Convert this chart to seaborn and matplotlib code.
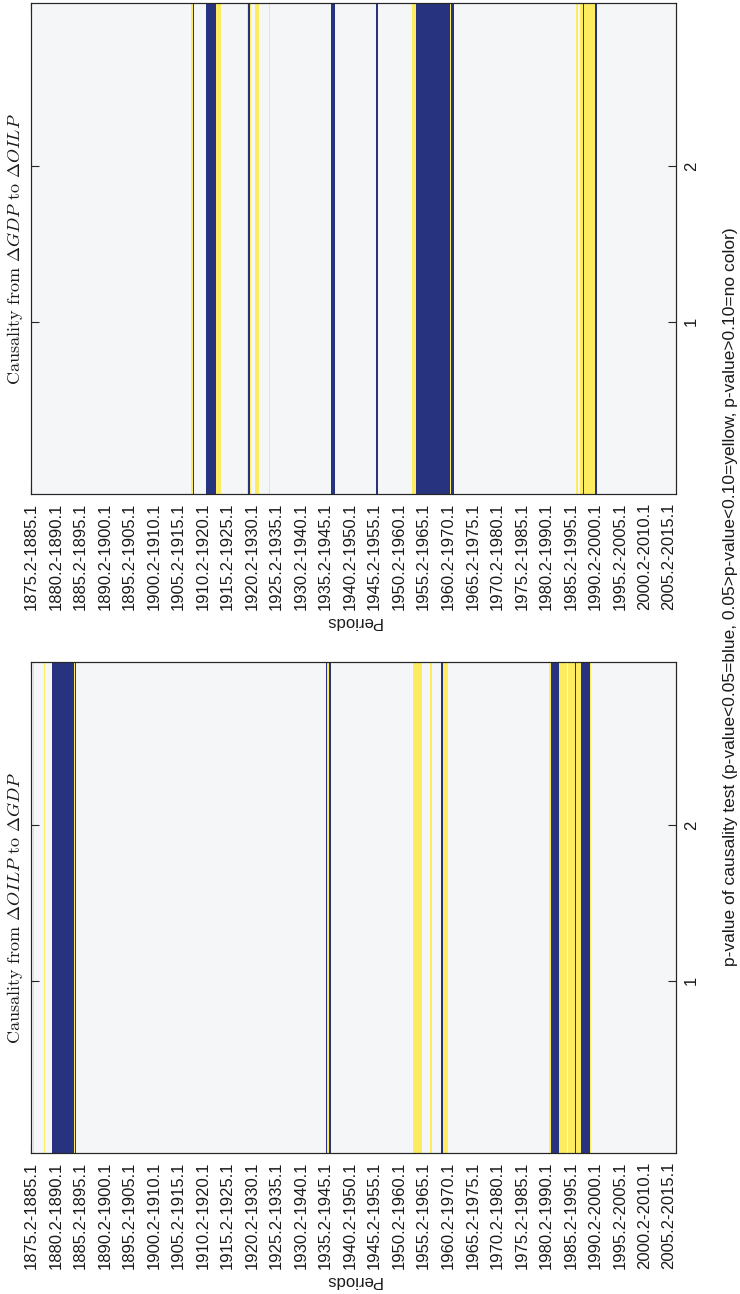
import numpy as np
import pandas as pd
import matplotlib
matplotlib.use("Agg")
import matplotlib.pyplot as plt
from matplotlib.colors import ListedColormap
import seaborn as sns

# ---------------- data ----------------
# rolling 10-year windows, quarterly steps: first window 1875.2-1885.1, last window start 2006.3
first_window = "1875.2"
last_window = "2006.3"

tick_labels = [f"{y}.2-{y + 10}.1" for y in range(1875, 2010, 5)]

# category: 1 = yellow (0.05<p<0.10), 2 = blue (p<0.05); start window, length in quarters
# Panel: causality from dGDP to dOILP
gdp_oil_start = ["1908.1", "1908.2", "1911.1", "1913.1", "1919.2", "1919.3", "1920.1",
                 "1921.1", "1923.4", "1936.3", "1945.4", "1953.1", "1953.4", "1960.4",
                 "1961.1", "1986.3", "1987.2", "1987.4", "1988.1", "1990.2"]
gdp_oil_len = [1, 1, 8, 4, 1, 2, 1, 3, 1, 3, 1, 3, 28, 1, 2, 1, 2, 1, 9, 2]
gdp_oil_cat = [1, 2, 2, 1, 1, 2, 1, 1, 1, 2, 2, 1, 2, 1, 2, 1, 1, 2, 1, 2]

# Panel: causality from dOILP to dGDP
oil_gdp_start = ["1875.4", "1878.1", "1879.3", "1884.1", "1884.2", "1935.3", "1935.4",
                 "1936.1", "1953.2", "1956.4", "1959.1", "1959.2", "1981.1", "1981.2",
                 "1983.1", "1984.4", "1986.2", "1986.3", "1987.3", "1989.2"]
oil_gdp_len = [1, 1, 18, 1, 1, 1, 1, 2, 7, 1, 1, 4, 1, 7, 6, 6, 1, 4, 7, 1]
oil_gdp_cat = [1, 1, 2, 1, 2, 2, 1, 2, 1, 1, 2, 1, 1, 2, 1, 1, 2, 1, 2, 1]

lags = [1, 2]

titles = [r"Causality from $\Delta GDP$ to $\Delta OILP$",
          r"Causality from $\Delta OILP$ to $\Delta GDP$"]
xlabel_text = ("p-value of causality test (p-value<0.05=blue, "
               "0.05>p-value<0.10=yellow, p-value>0.10=no color)")

# ---------------- helpers ----------------
def qidx(s):
    y, q = s.split(".")
    return int(y) * 4 + int(q) - 1

q_first, q_last = qidx(first_window), qidx(last_window)
n_cells = q_last - q_first + 1
windows = []
for k in range(n_cells):
    qq = q_first + k
    windows.append(f"{qq // 4}.{qq % 4 + 1}")


def build(starts, lens, cats):
    s = pd.Series(0, index=windows, dtype=float)
    for st, ln, c in zip(starts, lens, cats):
        i0 = qidx(st) - q_first
        s.iloc[i0:i0 + ln] = c
    return pd.DataFrame([s.values], columns=windows, index=["p"])


panels = [build(gdp_oil_start, gdp_oil_len, gdp_oil_cat),
          build(oil_gdp_start, oil_gdp_len, oil_gdp_cat)]

# ---------------- style ----------------
sns.set_theme(style="white")
plt.rcParams["font.family"] = ["Liberation Sans", "DejaVu Sans"]
plt.rcParams["mathtext.fontset"] = "cm"

bg = "#f4f6f8"
yellow = "#fdeb60"
blue = "#27337e"
cmap = ListedColormap([bg, yellow, blue])
dark = "#262626"

W, H = 740, 1294
fig = plt.figure(figsize=(W / 100, H / 100), dpi=100)

ax_left, ax_right = 30.7, 675.7
tops = [3.3, 662.3]
ax_h = 491.0
ylo, yhi = -0.11, 3.05
fs = 12

for df, top, title in zip(panels, tops, titles):
    ax = fig.add_axes([ax_left / W, 1 - (top + ax_h) / H, (ax_right - ax_left) / W, ax_h / H])
    sns.heatmap(df, ax=ax, cmap=cmap, vmin=-0.5, vmax=2.5, cbar=False,
                xticklabels=False, yticklabels=False)
    ax.set_xlim(0, n_cells)
    ax.set_ylim(1, 0)
    tick_pos = [qidx(lbl.split("-")[0]) - q_first + 0.5 for lbl in tick_labels]
    ax.set_xticks(tick_pos)
    ax.set_xticklabels(tick_labels, rotation=90, fontsize=fs, color="#1a1a1a")
    ax.set_yticks([])
    ax.tick_params(axis="x", direction="in", length=5.5, width=0.8, color=dark,
                   top=True, bottom=True, pad=6)
    ax.set_xlabel("Periods", rotation=180, fontsize=fs, color="#1a1a1a", labelpad=3)
    ax.set_ylabel("")
    for sp in ax.spines.values():
        sp.set_visible(True)
        sp.set_color(dark)
        sp.set_linewidth(0.8)

    ax2 = ax.twinx()
    ax2.set_ylim(ylo, yhi)
    ax2.set_yticks(lags)
    ax2.set_yticklabels([str(l) for l in lags], rotation=90, va="center", fontsize=fs,
                        color="#1a1a1a")
    ax2.tick_params(axis="y", direction="in", length=5.5, width=0.8, color=dark,
                    left=True, right=True, labelleft=False, labelright=True, pad=6)
    ax2.grid(False)
    for sp in ax2.spines.values():
        sp.set_color(dark)
        sp.set_linewidth(0.8)

    fig.text(15 / W, 1 - (top + ax_h / 2) / H, title, rotation=90,
             ha="center", va="center", fontsize=13, color="#1a1a1a",
             family="cmr10")

fig.text(730 / W, 1 - 597 / H, xlabel_text, rotation=90, ha="center", va="center",
         fontsize=12.5, color="#1a1a1a")

fig.savefig("out.png", dpi=100, facecolor="white")
